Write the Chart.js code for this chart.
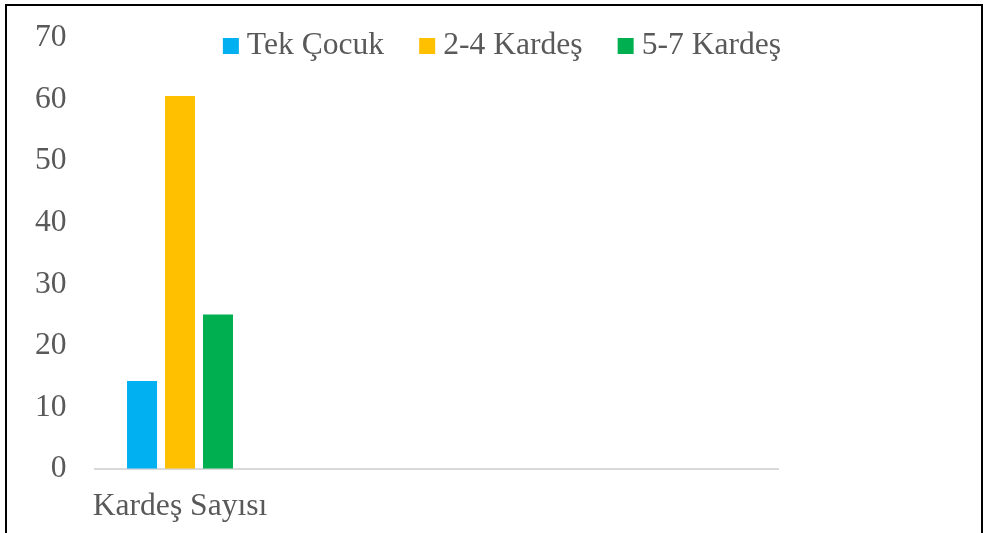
<!DOCTYPE html>
<html lang="tr">
<head>
<meta charset="utf-8">
<title>Kardeş Sayısı</title>
<script src="https://cdn.jsdelivr.net/npm/chart.js@4/dist/chart.umd.min.js"></script>
<style>
    html, body { margin: 0; padding: 0; background: #fff; }
    #wrap { position: relative; width: 985px; height: 533px; overflow: hidden; }
    #chart { position: absolute; left: 0; top: 0; }
    /* thin black frame around the chart, bottom edge cut off */
    #frame {
        position: absolute; left: 5px; top: 4px; width: 974px; height: 560px;
        border: 2px solid #000; pointer-events: none;
    }
</style>
</head>
<body>
<div id="wrap">
    <canvas id="chart" width="985" height="533"></canvas>
    <div id="frame"></div>
</div>
<script>
const categories = ['Kardeş Sayısı', '', '', ''];
const tekCocuk = [14.3, null, null, null];
const ikiDortKardes = [60.6, null, null, null];
const besYediKardes = [25.1, null, null, null];
const yTicks = [0, 10, 20, 30, 40, 50, 60, 70];

const textColor = '#595959';
const serif = "'Liberation Serif', 'Times New Roman', serif";
const fontSize = 31.6;

// legend drawn as one row over the plot, like the office-style chart:
// it sits inside the plot area and does not take any layout space
const overlayLegend = {
    id: 'overlayLegend',
    afterDraw(chart, args, opts) {
        const c = chart.ctx;
        const box = opts.boxSize;
        const gap = opts.textGap;
        const spacing = opts.itemSpacing;
        c.save();
        c.font = fontSize + 'px ' + serif;
        c.textBaseline = 'middle';
        const items = chart.data.datasets.map(ds => ({
            text: ds.label,
            color: ds.backgroundColor,
            w: box + gap + c.measureText(ds.label).width
        }));
        const total = items.reduce((s, it) => s + it.w, 0) + spacing * (items.length - 1);
        let x = opts.centerX - total / 2;
        const y = chart.chartArea.top + opts.offsetY;
        items.forEach(it => {
            c.fillStyle = it.color;
            c.fillRect(x, y - box / 2, box, box);
            c.fillStyle = textColor;
            c.fillText(it.text, x + box + gap, y);
            x += it.w + spacing;
        });
        c.restore();
    }
};

// invisible tick marks give the gap between axis and labels
// without the extra end padding that ticks.padding adds
const hiddenTicks = len => ({
    display: true,
    drawOnChartArea: false,
    drawTicks: true,
    tickLength: len,
    color: 'rgba(0,0,0,0)'
});

const ctx = document.getElementById('chart').getContext('2d');
const chart = new Chart(ctx, {
    type: 'bar',
    data: {
        labels: categories,
        datasets: [
            { label: 'Tek Çocuk', data: tekCocuk, backgroundColor: '#00B0F0' },
            { label: '2-4 Kardeş', data: ikiDortKardes, backgroundColor: '#FFC000' },
            { label: '5-7 Kardeş', data: besYediKardes, backgroundColor: '#00B050' }
        ]
    },
    plugins: [overlayLegend],
    options: {
        responsive: false,
        animation: false,
        categoryPercentage: 0.667,
        barPercentage: 0.79,
        layout: {
            padding: { left: 35, right: 207, top: 38, bottom: 7 }
        },
        plugins: {
            tooltip: { enabled: false },
            legend: { display: false },
            overlayLegend: { boxSize: 16, textGap: 8, itemSpacing: 35, centerX: 502, offsetY: 8 }
        },
        scales: {
            x: {
                grid: hiddenTicks(19),
                border: { color: '#d9d9d9', width: 2 },
                ticks: {
                    color: textColor,
                    font: { family: serif, size: fontSize },
                    padding: 0,
                    maxRotation: 0,
                    autoSkip: false
                }
            },
            y: {
                min: 0,
                max: 70,
                afterBuildTicks: axis => { axis.ticks = yTicks.map(v => ({ value: v })); },
                grid: hiddenTicks(28),
                border: { display: false },
                ticks: {
                    color: textColor,
                    font: { family: serif, size: fontSize },
                    padding: 0
                }
            }
        }
    }
});
</script>
</body>
</html>
